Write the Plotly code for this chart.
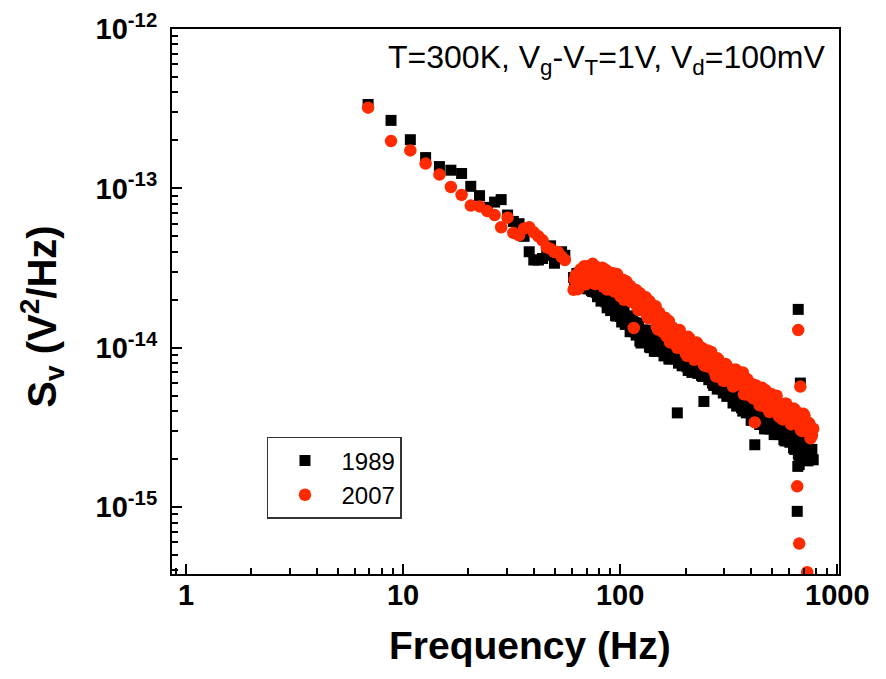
import plotly.graph_objects as go

# ---------------- data ----------------
freq_low = [6.9, 8.8, 10.8, 12.7, 14.7, 16.6, 18.6, 20.5, 22.5, 24.4, 26.4, 28.3, 30.3,
            32.2, 34.2, 36.1, 38.1, 40.0, 42.0, 43.9, 45.9, 47.8, 49.8, 51.7, 53.7, 55.6]
s1989_low = [336e-15, 267e-15, 202e-15, 156e-15, 137e-15, 130e-15, 124e-15, 103e-15, 90e-15,
             76e-15, 82e-15, 85e-15, 68e-15, 62e-15, 60e-15, 50e-15, 40e-15, 35.5e-15, 35.5e-15,
             36.3e-15, 38e-15, 43.6e-15, 33.9e-15, 37.2e-15, 40e-15, 38e-15]
s2007_low = [321e-15, 198e-15, 173e-15, 143e-15, 122e-15, 102e-15, 91e-15, 78e-15, 77e-15,
             72e-15, 68e-15, 57e-15, 65.5e-15, 52.5e-15, 50.7e-15, 56e-15, 57e-15, 53e-15, 50e-15,
             47.2e-15, 42.7e-15, 41.7e-15, 39.8e-15, 39.8e-15, 37.2e-15, 35.5e-15]

freq_high_a = [61, 62.5, 64, 65.7, 67.4, 69.2, 71, 72.8, 74.7, 76.6,
               78.6, 80.6, 82.7, 84.9, 87.1, 89.3, 91.6, 94, 96.5, 99,
               101.6, 104.2, 106.9, 109.7, 112.6, 115.5, 118.5, 121.6, 124.8, 128,
               131.3, 134.7, 138.2, 141.8, 145.5, 149.3, 153.2, 157.2, 161.3, 165.5,
               169.8, 174.2, 178.7, 183.3, 188, 193, 198, 203, 208.5, 214,
               219.5, 225, 231, 237, 243, 249.5, 256, 262.5, 269.5, 276.5,
               283.5, 291, 298.5, 306, 314, 322.5, 331, 339.5, 348.5, 357.5,
               367, 376.5, 386, 396, 406.5, 417, 428, 439, 450.5, 462,
               474, 486.5, 499, 512, 525.5, 539, 553, 567.5, 582, 597,
               613, 629, 645, 662, 679, 697, 715, 733, 753, 775]
s1989_high_a = [27.6e-15, 23.9e-15, 29.3e-15, 24.8e-15, 30.0e-15, 25.6e-15, 23.4e-15, 28.0e-15, 22.5e-15, 24.3e-15,
                20.9e-15, 25.0e-15, 20.1e-15, 22.3e-15, 17.8e-15, 21.2e-15, 17.9e-15, 19.7e-15, 15.8e-15, 17.6e-15,
                14.5e-15, 17.5e-15, 14.4e-15, 15.8e-15, 12.7e-15, 14.4e-15, 12.0e-15, 13.8e-15, 10.7e-15, 12.4e-15,
                10.8e-15, 12.7e-15, 10.0e-15, 11.6e-15, 9.5e-15, 11.4e-15, 9.7e-15, 10.8e-15, 8.9e-15, 10.1e-15,
                8.5e-15, 10.2e-15, 8.5e-15, 3.9e-15, 9.3e-15, 7.7e-15, 9.2e-15, 7.6e-15, 8.5e-15, 7.0e-15,
                8.6e-15, 7.3e-15, 8.1e-15, 6.7e-15, 4.6e-15, 7.8e-15, 6.3e-15, 7.1e-15, 5.8e-15, 6.9e-15,
                5.7e-15, 6.3e-15, 5.2e-15, 6.0e-15, 5.0e-15, 5.6e-15, 4.5e-15, 5.4e-15, 4.5e-15, 4.9e-15,
                4.0e-15, 4.8e-15, 3.95e-15, 4.3e-15, 3.55e-15, 2.46e-15, 4.05e-15, 3.3e-15, 3.8e-15, 3.1e-15,
                3.75e-15, 3.1e-15, 3.45e-15, 2.85e-15, 3.4e-15, 2.85e-15, 3.2e-15, 2.65e-15, 3.2e-15, 2.6e-15,
                2.85e-15, 2.35e-15, 2.7e-15, 2.15e-15, 2.5e-15, 2.05e-15, 2.45e-15, 1.95e-15, 2.3e-15, 1.98e-15]
s2007_high_a = [23.1e-15, 28.6e-15, 23.3e-15, 31.0e-15, 28.0e-15, 24.9e-15, 32.5e-15, 27.8e-15, 33.6e-15, 25.1e-15,
                29.9e-15, 25.4e-15, 31.8e-15, 26.8e-15, 23.2e-15, 29.7e-15, 26.8e-15, 22.5e-15, 29.0e-15, 22.4e-15,
                25.5e-15, 20.0e-15, 26.0e-15, 22.1e-15, 19.4e-15, 13.3e-15, 23.0e-15, 17.2e-15, 20.4e-15, 17.1e-15,
                20.7e-15, 15.3e-15, 18.6e-15, 15.6e-15, 18.2e-15, 13.0e-15, 15.1e-15, 12.6e-15, 15.4e-15, 12.4e-15,
                10.8e-15, 13.4e-15, 11.7e-15, 10.0e-15, 12.9e-15, 9.9e-15, 11.4e-15, 8.9e-15, 11.4e-15, 9.5e-15,
                8.4e-15, 10.8e-15, 8.6e-15, 10.0e-15, 7.8e-15, 9.1e-15, 7.6e-15, 9.4e-15, 7.5e-15, 6.6e-15,
                8.4e-15, 7.3e-15, 6.2e-15, 7.9e-15, 6.3e-15, 7.2e-15, 5.7e-15, 7.3e-15, 5.9e-15, 6.4e-15,
                7.0e-15, 5.1e-15, 6.3e-15, 5.0e-15, 5.9e-15, 3.4e-15, 5.1e-15, 4.35e-15, 5.6e-15, 4.5e-15,
                5.0e-15, 3.95e-15, 5.1e-15, 4.2e-15, 5.0e-15, 3.7e-15, 4.3e-15, 3.6e-15, 4.45e-15, 3.7e-15,
                3.3e-15, 4.15e-15, 3.35e-15, 3.9e-15, 3.05e-15, 3.85e-15, 3.0e-15, 3.4e-15, 2.7e-15, 3.1e-15]

freq_high_b = [61.7, 63.2, 64.8, 66.5, 68.3, 70.1, 71.9, 73.7, 75.6, 77.6,
               79.6, 81.6, 83.8, 86, 88.2, 90.4, 92.8, 95.2, 97.7, 100.3,
               102.9, 105.5, 108.3, 111.1, 114, 117, 120, 123.2, 126.4, 129.6,
               133, 136.4, 140, 143.6, 147.4, 151.2, 155.2, 159.2, 163.4, 167.6,
               172, 176.4, 181, 185.6, 190.5, 195.5, 200.5, 205.7, 211.2, 216.7,
               222.2, 228, 234, 240, 246.2, 252.7, 259.2, 266, 273, 280,
               287.2, 294.7, 302.2, 310, 318.2, 326.7, 335.2, 344, 353, 362.2,
               371.7, 381.2, 391, 401.2, 411.7, 422.5, 433.5, 444.7, 456.2, 468,
               480.2, 492.7, 505.5, 518.7, 532.2, 546, 560.2, 574.7, 589.5, 605,
               621, 637, 653.5, 670.5, 688, 706, 724, 743, 764]
s1989_high_b = [23.8e-15, 29.2e-15, 25.3e-15, 30.2e-15, 23.6e-15, 28.1e-15, 29.4e-15, 22.9e-15, 26.4e-15, 22.2e-15,
                25.9e-15, 19.6e-15, 22.7e-15, 19.4e-15, 22.3e-15, 17.1e-15, 19.4e-15, 15.9e-15, 18.9e-15, 15.7e-15,
                18.0e-15, 14.0e-15, 15.8e-15, 12.6e-15, 15.2e-15, 12.6e-15, 14.3e-15, 11.0e-15, 12.9e-15, 10.9e-15,
                12.9e-15, 10.1e-15, 11.6e-15, 9.5e-15, 11.6e-15, 9.7e-15, 11.3e-15, 8.9e-15, 10.4e-15, 8.5e-15,
                10.4e-15, 8.6e-15, 9.8e-15, 8.0e-15, 9.7e-15, 8.1e-15, 8.8e-15, 7.2e-15, 8.9e-15, 7.3e-15,
                8.7e-15, 6.9e-15, 8.0e-15, 6.6e-15, 8.0e-15, 6.7e-15, 7.7e-15, 6.0e-15, 6.9e-15, 5.5e-15,
                6.7e-15, 5.5e-15, 6.2e-15, 4.95e-15, 6.0e-15, 4.95e-15, 5.3e-15, 4.3e-15, 5.2e-15, 4.2e-15,
                5.0e-15, 3.9e-15, 4.4e-15, 3.5e-15, 4.3e-15, 3.55e-15, 4.15e-15, 3.3e-15, 3.8e-15, 3.1e-15,
                3.75e-15, 3.1e-15, 3.5e-15, 2.9e-15, 3.5e-15, 2.9e-15, 3.2e-15, 2.6e-15, 3.1e-15, 2.55e-15,
                3.0e-15, 2.3e-15, 2.6e-15, 2.1e-15, 2.6e-15, 2.15e-15, 2.5e-15, 2.0e-15, 2.3e-15]
s2007_high_b = [26.8e-15, 23.4e-15, 28.9e-15, 25.3e-15, 32.5e-15, 30.1e-15, 25.9e-15, 32.1e-15, 26.9e-15, 32.1e-15,
                27.2e-15, 30.0e-15, 24.1e-15, 30.7e-15, 27.2e-15, 24.0e-15, 29.3e-15, 23.9e-15, 25.4e-15, 21.0e-15,
                26.7e-15, 23.0e-15, 20.2e-15, 24.4e-15, 20.0e-15, 22.0e-15, 17.9e-15, 22.0e-15, 18.3e-15, 19.2e-15,
                15.9e-15, 19.6e-15, 15.6e-15, 17.1e-15, 13.6e-15, 16.6e-15, 13.7e-15, 14.3e-15, 11.8e-15, 14.7e-15,
                11.4e-15, 12.6e-15, 10.4e-15, 12.6e-15, 10.6e-15, 11.1e-15, 9.2e-15, 11.7e-15, 9.5e-15, 10.4e-15,
                8.6e-15, 10.5e-15, 8.9e-15, 9.3e-15, 7.7e-15, 9.6e-15, 7.7e-15, 8.5e-15, 7.0e-15, 8.6e-15,
                7.1e-15, 7.6e-15, 6.2e-15, 7.7e-15, 6.4e-15, 7.1e-15, 5.8e-15, 7.2e-15, 5.9e-15, 6.2e-15,
                5.1e-15, 6.4e-15, 5.3e-15, 5.8e-15, 4.8e-15, 5.8e-15, 4.85e-15, 5.2e-15, 4.3e-15, 5.4e-15,
                4.35e-15, 4.85e-15, 4.0e-15, 4.85e-15, 4.1e-15, 4.3e-15, 3.55e-15, 4.45e-15, 3.7e-15, 4.05e-15,
                3.4e-15, 4.1e-15, 3.45e-15, 3.7e-15, 3.0e-15, 3.75e-15, 3.0e-15, 3.35e-15, 2.8e-15]

freq_spike_1989 = [654, 661, 676, 658, 668]
s1989_spike = [0.94e-15, 17.4e-15, 6.0e-15, 1.8e-15, 1.85e-15]
freq_spike_2007 = [654, 661, 668, 676, 727]
s2007_spike = [1.35e-15, 12.9e-15, 0.59e-15, 5.7e-15, 0.39e-15]

x_ticks = [1, 10, 100, 1000]
x_tick_text = ["1", "10", "100", "1000"]
y_ticks = [1e-15, 1e-14, 1e-13, 1e-12]
y_tick_text = ["10<sup>-15</sup>", "10<sup>-14</sup>", "10<sup>-13</sup>", "10<sup>-12</sup>"]

FONT = "Liberation Sans, Arial, Helvetica, sans-serif"
RED = "#ff2a00"

f1989 = freq_low + freq_high_a + freq_high_b + freq_spike_1989
v1989 = s1989_low + s1989_high_a + s1989_high_b + s1989_spike
f2007 = freq_low + freq_high_a + freq_high_b + freq_spike_2007
v2007 = s2007_low + s2007_high_a + s2007_high_b + s2007_spike

fig = go.Figure()
fig.add_trace(go.Scatter(x=f1989, y=v1989, mode="markers", name="1989",
                         marker=dict(symbol="square", size=11, color="black", line=dict(width=0))))
fig.add_trace(go.Scatter(x=f2007, y=v2007, mode="markers", name="2007",
                         marker=dict(symbol="circle", size=12.5, color=RED, line=dict(width=0))))

axis_common = dict(
    showgrid=False, zeroline=False, showline=True, linecolor="black", linewidth=2,
    mirror=True, ticks="inside", ticklen=10, tickwidth=2, tickcolor="black", automargin=False,
    tickfont=dict(family=FONT, size=29, color="black", weight="bold"),
    minor=dict(ticks="inside", ticklen=6, tickwidth=1.5, tickcolor="black", dtick="D1", showgrid=False),
)

fig.update_xaxes(type="log", range=[-0.0645, 3.008], tickmode="array", tickvals=x_ticks,
                 ticktext=x_tick_text, ticklabelstandoff=-6, **axis_common)
fig.update_yaxes(type="log", range=[-15.42, -12.0], tickmode="array", tickvals=y_ticks,
                 ticktext=y_tick_text, ticklabelstandoff=7, **axis_common)

fig.update_layout(
    width=886, height=679,
    margin=dict(l=172, r=47, t=29, b=105, autoexpand=False),
    paper_bgcolor="white", plot_bgcolor="white",
    font=dict(family=FONT, color="black"),
    showlegend=True,
    legend=dict(x=0.1424, y=0.2514, xanchor="left", yanchor="top",
                bgcolor="white", bordercolor="#333333", borderwidth=1.5,
                font=dict(family=FONT, size=24, color="black"),
                itemwidth=63, itemsizing="trace", tracegroupgap=0),
    annotations=[
        dict(text="T=300K, V<sub>g</sub>-V<sub>T</sub>=1V, V<sub>d</sub>=100mV",
             xref="paper", yref="paper", x=0.982, y=0.985, xanchor="right", yanchor="top",
             showarrow=False, font=dict(family=FONT, size=32, color="black")),
        dict(text="Frequency (Hz)", xref="paper", yref="paper", x=0.537, y=-0.131,
             xanchor="center", yanchor="middle", showarrow=False,
             font=dict(family=FONT, size=39, color="black", weight="bold")),
        dict(text="S<sub>v</sub> (V<sup>2</sup>/Hz)", xref="paper", yref="paper",
             x=-0.195, y=0.472, xanchor="center", yanchor="middle", textangle=-90, showarrow=False,
             font=dict(family=FONT, size=40, color="black", weight="bold")),
    ],
)

fig.write_html("out.html", config={"displayModeBar": False},
               post_script="document.body.style.margin='0';")
